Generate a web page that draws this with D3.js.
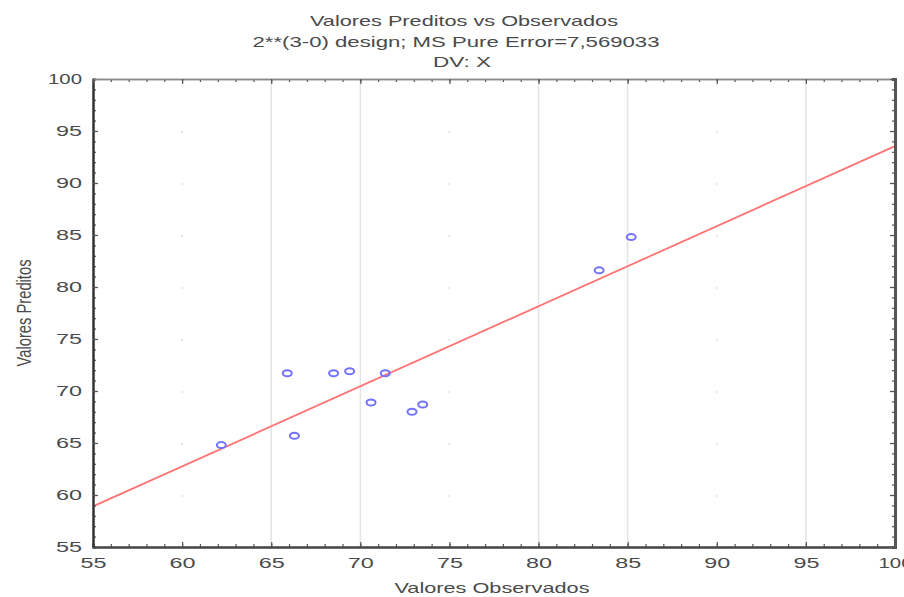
<html lang="pt">
<head>
<meta charset="utf-8">
<title>Valores Preditos vs Observados</title>
<script src="https://cdn.jsdelivr.net/npm/d3@7"></script>
<style>
  body { margin: 0; background: #fff; }
  text { font-family: "Liberation Sans", Arial, sans-serif; fill: #4a4a4a; }
</style>
</head>
<body>
<script>
var observados = [62.2, 65.9, 66.3, 68.5, 69.4, 71.4, 70.6, 72.9, 73.5, 83.4, 85.2];
var preditos   = [64.8, 71.7, 65.7, 71.7, 71.9, 71.7, 68.9, 68.0, 68.7, 81.6, 84.8];
// fitted line end points (x, y)
var linhaX = [55, 100];
var linhaY = [58.9, 93.55];
var ticks = [55, 60, 65, 70, 75, 80, 85, 90, 95, 100];
var gradeSolida = [65, 70, 80, 85, 95];
var gradePontilhada = [60, 75, 90];
var titulos = ["Valores Preditos vs Observados", "2**(3-0) design; MS Pure Error=7,569033", "DV: X"];

var w = 904, h = 597;
var pLeft = 93, pRight = 895, pTop = 79, pBottom = 547;

var x = d3.scaleLinear().domain([55, 100]).range([pLeft, pRight]);
var y = d3.scaleLinear().domain([55, 100]).range([pBottom, pTop]);
var minor = d3.range(55, 101, 1);

var svg = d3.select("body").append("svg")
  .attr("width", w)
  .attr("height", h);

// titles
var tPos = [[464, 26, 308], [456, 47, 407], [462, 67, 58]];
svg.selectAll("text.titulo")
  .data(titulos)
  .enter()
  .append("text")
  .attr("class", "titulo")
  .attr("x", function(d, i) { return tPos[i][0]; })
  .attr("y", function(d, i) { return tPos[i][1]; })
  .attr("text-anchor", "middle")
  .attr("font-size", "15px")
  .attr("textLength", function(d, i) { return tPos[i][2]; })
  .attr("lengthAdjust", "spacingAndGlyphs")
  .text(function(d) { return d; });

// grid
svg.selectAll("line.grade")
  .data(gradeSolida)
  .enter()
  .append("line")
  .attr("x1", function(d) { return x(d); })
  .attr("x2", function(d) { return x(d); })
  .attr("y1", pTop)
  .attr("y2", pBottom)
  .attr("stroke", "#e4e4e4")
  .attr("stroke-width", 1.5);

svg.selectAll("line.gradep")
  .data(gradePontilhada)
  .enter()
  .append("line")
  .attr("x1", function(d) { return x(d); })
  .attr("x2", function(d) { return x(d); })
  .attr("y1", pTop)
  .attr("y2", pBottom)
  .attr("stroke", "#d8d8d8")
  .attr("stroke-width", 1.2)
  .attr("stroke-dasharray", "2,50");

// fitted line
svg.append("line")
  .attr("x1", x(linhaX[0]))
  .attr("y1", y(linhaY[0]))
  .attr("x2", x(linhaX[1]))
  .attr("y2", y(linhaY[1]))
  .attr("stroke", "#ff7474")
  .attr("stroke-width", 1.8);

// points
svg.selectAll("ellipse")
  .data(observados)
  .enter()
  .append("ellipse")
  .attr("cx", function(d) { return x(d); })
  .attr("cy", function(d, i) { return y(preditos[i]); })
  .attr("rx", 4.5)
  .attr("ry", 3)
  .attr("fill", "none")
  .attr("stroke", "#7272ff")
  .attr("stroke-width", 2);

// axes
function estilo(g, cor, largura) {
  g.select(".domain").attr("stroke", cor).attr("stroke-width", largura);
  g.selectAll(".tick line").attr("stroke", "#555").attr("stroke-width", 1.2);
}

function rotulo(g) {
  g.selectAll(".tick text")
    .attr("font-size", "15px")
    .attr("fill", "#4a4a4a")
    .attr("textLength", function(d) { return String(d).length == 3 ? 34 : 26; })
    .attr("lengthAdjust", "spacingAndGlyphs");
}

svg.append("g")
  .attr("transform", "translate(0," + pBottom + ")")
  .call(d3.axisBottom(x).tickValues(minor).tickSize(-3).tickFormat(""))
  .call(estilo, "#444", 2);
svg.append("g")
  .attr("transform", "translate(0," + pBottom + ")")
  .call(d3.axisBottom(x).tickValues(ticks).tickSize(-5).tickPadding(10).tickSizeOuter(0))
  .call(estilo, "#444", 2)
  .call(rotulo);

svg.append("g")
  .attr("transform", "translate(" + pLeft + ",0)")
  .call(d3.axisLeft(y).tickValues(minor).tickSize(-3).tickFormat(""))
  .call(estilo, "#333", 2);
svg.append("g")
  .attr("transform", "translate(" + pLeft + ",0)")
  .call(d3.axisLeft(y).tickValues(ticks).tickSize(-5).tickPadding(11).tickSizeOuter(0))
  .call(estilo, "#333", 2)
  .call(rotulo);

svg.append("g")
  .attr("transform", "translate(0," + pTop + ")")
  .call(d3.axisTop(x).tickValues(minor).tickSize(-3).tickFormat(""))
  .call(estilo, "#8a8a8a", 1.5);
svg.append("g")
  .attr("transform", "translate(0," + pTop + ")")
  .call(d3.axisTop(x).tickValues(ticks).tickSize(-5).tickFormat("").tickSizeOuter(0))
  .call(estilo, "#8a8a8a", 1.5);

svg.append("g")
  .attr("transform", "translate(" + pRight + ",0)")
  .call(d3.axisRight(y).tickValues(minor).tickSize(-3).tickFormat(""))
  .call(estilo, "#555", 3);
svg.append("g")
  .attr("transform", "translate(" + pRight + ",0)")
  .call(d3.axisRight(y).tickValues(ticks).tickSize(-5).tickFormat("").tickSizeOuter(0))
  .call(estilo, "#555", 3);

// axis titles
svg.append("text")
  .attr("x", 492)
  .attr("y", 593)
  .attr("text-anchor", "middle")
  .attr("font-size", "15px")
  .attr("textLength", 195)
  .attr("lengthAdjust", "spacingAndGlyphs")
  .text("Valores Observados");

svg.append("text")
  .attr("transform", "translate(31,313) rotate(-90) scale(1,1.4)")
  .attr("text-anchor", "middle")
  .attr("font-size", "14px")
  .attr("textLength", 107)
  .attr("lengthAdjust", "spacingAndGlyphs")
  .text("Valores Preditos");
</script>
</body>
</html>
